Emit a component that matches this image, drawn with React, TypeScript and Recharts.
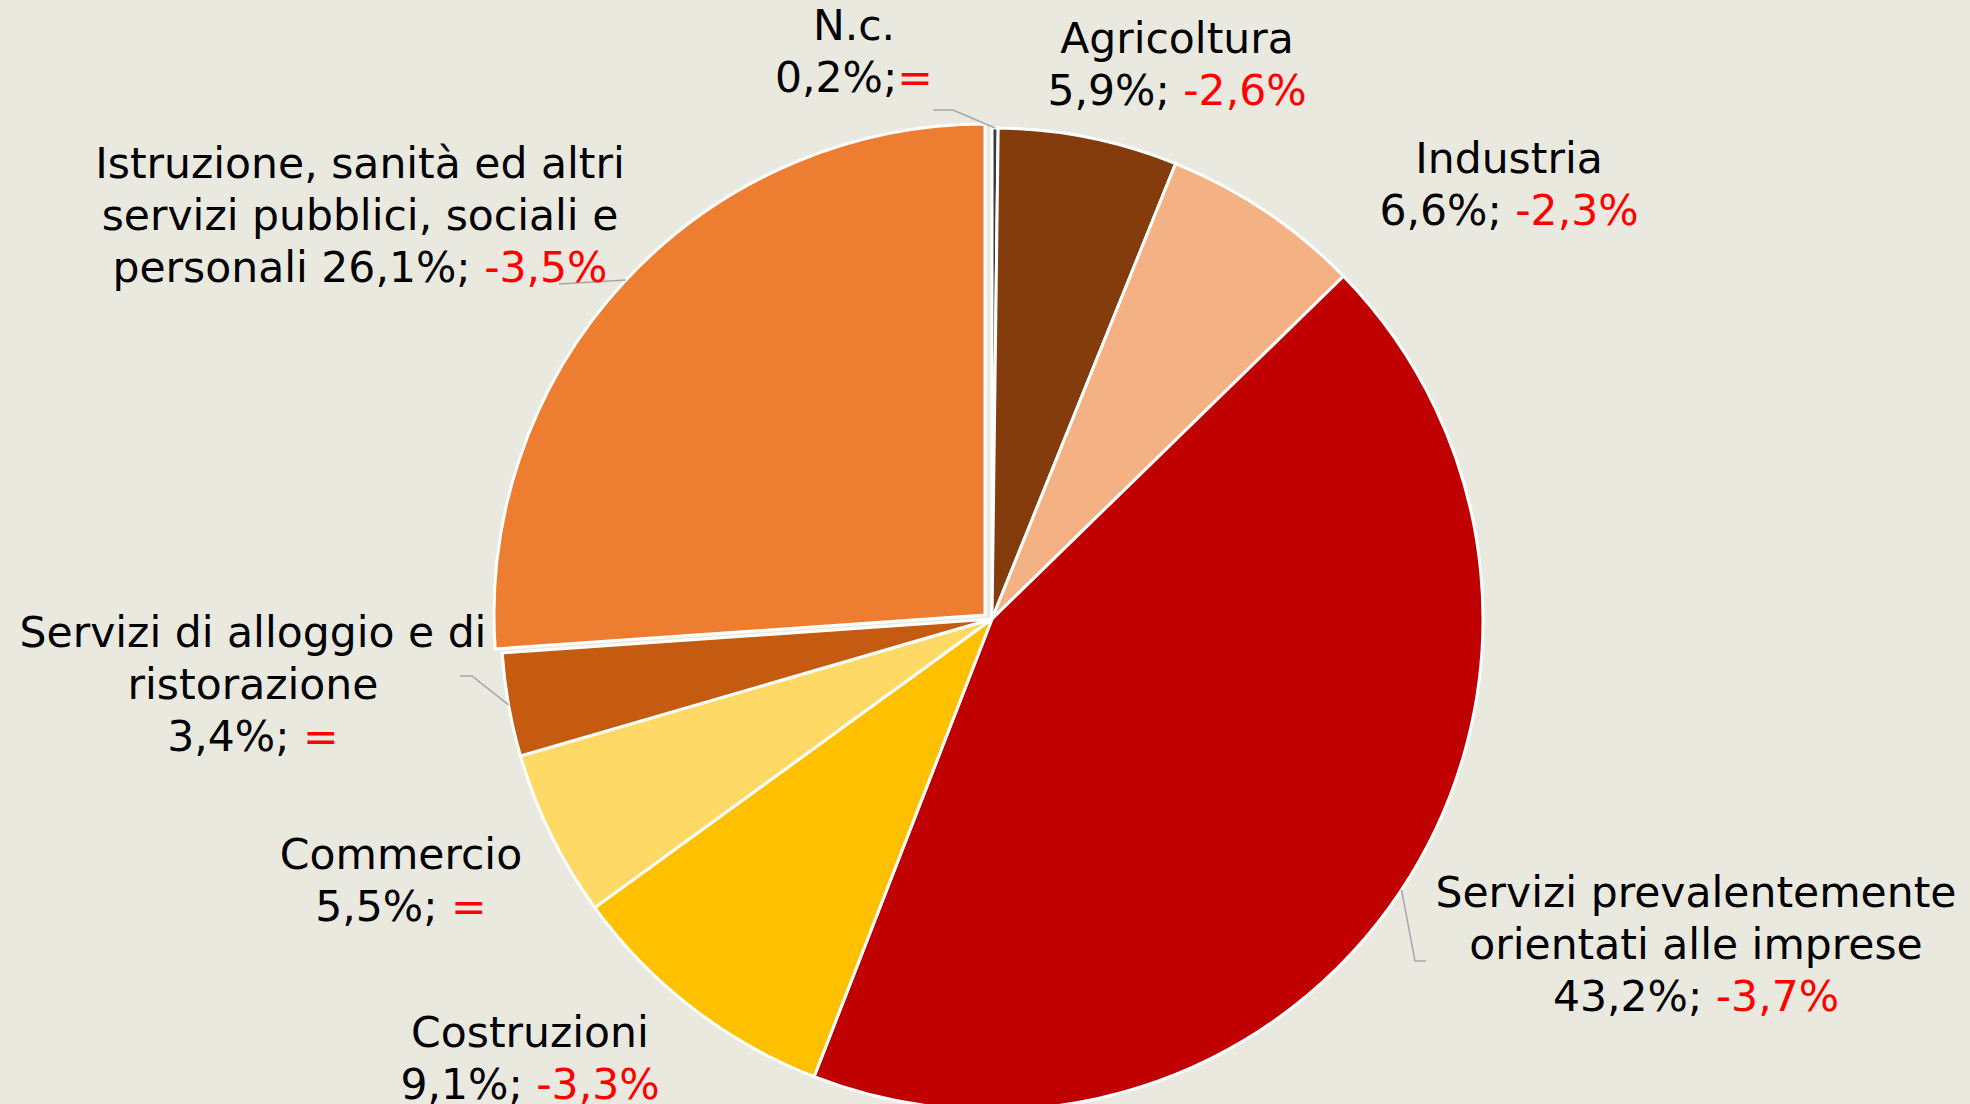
import { Cell, Pie, PieChart } from "recharts";

const categories = [
  "N.c.",
  "Agricoltura",
  "Industria",
  "Servizi prevalentemente orientati alle imprese",
  "Costruzioni",
  "Commercio",
  "Servizi di alloggio e di ristorazione",
  "Istruzione, sanità ed altri servizi pubblici, sociali e personali",
];
const shares = [0.2, 5.9, 6.6, 43.2, 9.1, 5.5, 3.4, 26.1];
const changes = ["=", "-2,6%", "-2,3%", "-3,7%", "-3,3%", "=", "=", "-3,5%"];
const nameLines = [
  ["N.c."],
  ["Agricoltura"],
  ["Industria"],
  ["Servizi prevalentemente", "orientati alle imprese"],
  ["Costruzioni"],
  ["Commercio"],
  ["Servizi di alloggio e di", "ristorazione"],
  ["Istruzione, sanità ed altri", "servizi pubblici, sociali e", "personali"],
];

const colors = ["#3a3a3a", "#843C0C", "#F4B183", "#C00000", "#FFC000", "#FFD966", "#C55A11", "#ED7D31"];
const exploded = 7; // Istruzione is pulled out

// label placement: text centre x, first baseline y, leader points (label side first)
const layout: { x: number; y: number; sep: string; inline?: boolean; leader?: number[][] }[] = [
  { x: 854, y: 40, sep: ";", leader: [[933, 110], [953, 110]] },
  { x: 1177, y: 53, sep: "; " },
  { x: 1509, y: 173, sep: "; " },
  { x: 1696, y: 907, sep: "; ", leader: [[1426, 961], [1415, 961]] },
  { x: 530, y: 1047, sep: "; " },
  { x: 401, y: 869, sep: "; " },
  { x: 253, y: 647, sep: "; ", leader: [[460, 676], [472, 676]] },
  { x: 360, y: 178, sep: "; ", inline: true, leader: [[559, 284]] },
];

const data = categories.map((name, i) => ({ name, value: shares[i], change: changes[i] }));

const W = 1970;
const H = 1104;
const CX = 992;
const CY = 619;
const R = 491;
const LINE_H = 52;
const RAD = Math.PI / 180;

const fmt = (v: number) => v.toFixed(1).replace(".", ",") + "%";

function renderLabel(show: (i: number) => boolean) {
  return (props: any) => {
    const { cx, cy, midAngle, outerRadius, index } = props;
    if (!show(index)) return null;
    const l = layout[index];
    const ax = cx + outerRadius * Math.cos(-midAngle * RAD);
    const ay = cy + outerRadius * Math.sin(-midAngle * RAD);
    const names = nameLines[index];
    const lines: { black: string; red?: string }[] = names.map((n) => ({ black: n }));
    if (l.inline) {
      lines[lines.length - 1] = { black: names[names.length - 1] + " " + fmt(shares[index]) + l.sep, red: changes[index] };
    } else {
      lines.push({ black: fmt(shares[index]) + l.sep, red: changes[index] });
    }
    const pts = l.leader ? [...l.leader, [ax, ay]] : null;
    return (
      <g key={`lbl-${index}`}>
        {pts && (
          <polyline
            points={pts.map((p) => p.join(",")).join(" ")}
            fill="none"
            stroke="#a6a6a6"
            strokeWidth={1.5}
          />
        )}
        <text
          x={l.x}
          y={l.y}
          textAnchor="middle"
          fontFamily="'DejaVu Sans', Verdana, sans-serif"
          fontSize={42.5}
          fill="#000"
        >
          {lines.map((ln, k) => (
            <tspan key={k} x={l.x} y={l.y + k * LINE_H}>
              {ln.black}
              {ln.red && <tspan fill="#FF0000">{ln.red}</tspan>}
            </tspan>
          ))}
        </text>
      </g>
    );
  };
}

export default function App() {
  return (
    <div style={{ position: "fixed", left: 0, top: 0, width: W, height: H, background: "#EAE9DF", overflow: "hidden" }}>
      <PieChart width={W} height={H} margin={{ top: 0, right: 0, bottom: 0, left: 0 }}>
        <Pie
          data={data}
          dataKey="value"
          nameKey="name"
          cx={CX}
          cy={CY}
          outerRadius={R}
          startAngle={90}
          endAngle={-270}
          stroke="#ffffff"
          strokeWidth={3}
          isAnimationActive={false}
          labelLine={false}
          label={renderLabel((i) => i !== exploded)}
        >
          {data.map((d, i) => (
            <Cell key={d.name} fill={i === exploded ? "transparent" : colors[i]} stroke={i === exploded ? "none" : "#ffffff"} />
          ))}
        </Pie>
        <Pie
          data={data}
          dataKey="value"
          nameKey="name"
          cx={CX - 7}
          cy={CY - 4}
          outerRadius={R}
          startAngle={90}
          endAngle={-270}
          stroke="#ffffff"
          strokeWidth={3}
          isAnimationActive={false}
          labelLine={false}
          label={renderLabel((i) => i === exploded)}
        >
          {data.map((d, i) => (
            <Cell key={d.name} fill={i === exploded ? colors[i] : "transparent"} stroke={i === exploded ? "#ffffff" : "none"} />
          ))}
        </Pie>
      </PieChart>
    </div>
  );
}
